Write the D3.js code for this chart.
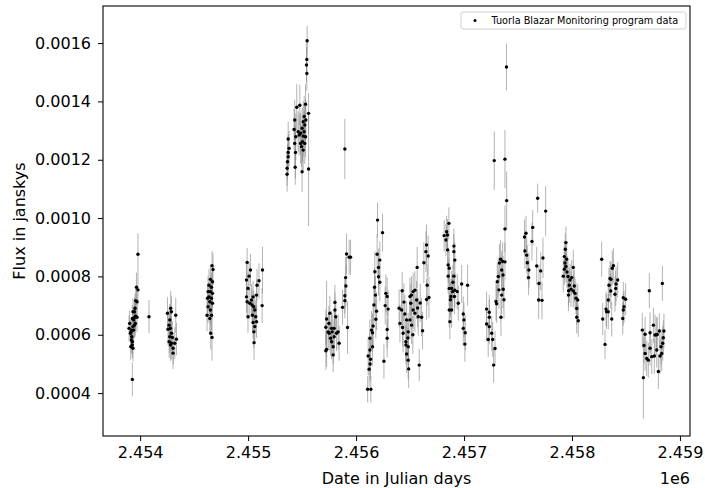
<!DOCTYPE html>
<html>
<head>
<meta charset="utf-8">
<script src="https://cdn.jsdelivr.net/npm/d3@7"></script>
<style>
  body { margin: 0; background: #fff; }
  svg { font-family: "DejaVu Sans", sans-serif; }
</style>
</head>
<body>
<svg id="chart" width="705" height="488"></svg>
<script>
// Tuorla Blazar Monitoring light curve (Julian date, flux in Jy, 1-sigma error)
const jd = [
  2453897, 2453910, 2453919, 2453928, 2453922, 2453903, 2453934, 2453940, 2453928, 2453950,
  2453959, 2453971, 2453947, 2453953, 2453934, 2453959, 2453971, 2453966, 2453980, 2453980,
  2453928, 2453922, 2453916, 2453940, 2453947, 2453956, 2453913, 2453934, 2453928, 2454082,
  2454253, 2454283, 2454290, 2454330, 2454274, 2454268, 2454281, 2454258, 2454290, 2454274,
  2454299, 2454336, 2454268, 2454290, 2454321, 2454305, 2454305, 2454281,
  2454666, 2454675, 2454651, 2454670, 2454638, 2454661, 2454629, 2454651, 2454670, 2454638,
  2454661, 2454624, 2454645, 2454670, 2454629, 2454651, 2454620, 2454661, 2454654, 2454666, 2454645,
  2454991, 2454985, 2455009, 2455022, 2454999, 2454985, 2454991, 2455016, 2455031, 2455046,
  2455037, 2455053, 2454999, 2455041, 2455062, 2455071, 2455046, 2455078, 2455062, 2455053,
  2455078, 2455101, 2455133, 2455130, 2455055, 2455083,
  2455361, 2455361, 2455365, 2455371, 2455371, 2455380, 2455371, 2455436, 2455439, 2455432,
  2455442, 2455426, 2455432, 2455451, 2455479, 2455464, 2455473, 2455486, 2455495, 2455486,
  2455500, 2455510, 2455525, 2455519, 2455510, 2455532, 2455504, 2455525, 2455510, 2455500,
  2455532, 2455560, 2455560, 2455547, 2455544, 2455541, 2455544, 2455519, 2455535,
  2455896,
  2455727, 2455720, 2455727, 2455720, 2455741, 2455751, 2455757, 2455748, 2455764, 2455773,
  2455779, 2455788, 2455788, 2455797, 2455804, 2455804, 2455812, 2455797, 2455819, 2455843,
  2455834, 2455773,
  2455912, 2455936, 2455949, 2455903, 2455906, 2455896, 2455896, 2455875, 2455921,
  2456199, 2456245, 2456195, 2456220, 2456174, 2456208, 2456208, 2456220, 2456171, 2456276,
  2456288, 2456297, 2456270, 2456190, 2456183, 2456158, 2456143, 2456153, 2456128, 2456288,
  2456288, 2456153, 2456128, 2456112, 2456134, 2456121, 2456130, 2456258, 2456107, 2456137,
  2456165, 2456179,
  2456427, 2456399, 2456422, 2456406, 2456431, 2456452, 2456468, 2456483, 2456436, 2456461,
  2456483, 2456468, 2456483, 2456487, 2456499, 2456514, 2456529, 2456545, 2456561, 2456576,
  2456607, 2456616, 2456585, 2456566, 2456628, 2456647, 2456653, 2456668, 2456659, 2456653,
  2456675, 2456507, 2456529, 2456545, 2456499, 2456514, 2456480, 2456526, 2456462, 2456570,
  2456594, 2456443,
  2456860, 2456839, 2456816, 2456846, 2456832, 2456848, 2456906, 2456906, 2456853, 2456863,
  2456915, 2456853, 2456906, 2456863, 2456885, 2456894, 2456915, 2456937, 2456878, 2456911,
  2456863, 2456885, 2456869, 2456978, 2457033, 2456947, 2456993, 2456999, 2456993, 2457011,
  2457008, 2456874, 2456897,
  2457280, 2457379, 2457395, 2457379, 2457339, 2457358, 2457379, 2457328, 2457349, 2457317,
  2457308, 2457361, 2457363, 2457349, 2457296, 2457302, 2457342, 2457209, 2457234, 2457234,
  2457209, 2457234, 2457256, 2457224, 2457265, 2457287, 2457274, 2457393, 2457323, 2457370,
  2457574, 2457560, 2457636, 2457682, 2457756, 2457564, 2457580, 2457586, 2457601, 2457598,
  2457629, 2457673, 2457694, 2457710, 2457731, 2457691, 2457722,
  2457944, 2457938, 2457929, 2457951, 2457935, 2457944, 2457929, 2457919, 2457954, 2457963,
  2457997, 2458012, 2457975, 2457969, 2457991, 2457967, 2458021, 2458012, 2458028, 2458037,
  2458053, 2458044, 2458044, 2458058, 2457982,
  2458275, 2458285, 2458306, 2458315, 2458336, 2458320, 2458336, 2458343, 2458352, 2458361,
  2458359, 2458368, 2458373, 2458383, 2458405, 2458408, 2458423, 2458398, 2458475, 2458497,
  2458482, 2458475, 2458470,
  2458651, 2458661, 2458677, 2458667, 2458677, 2458692, 2458707, 2458716, 2458723, 2458723,
  2458739, 2458754, 2458763, 2458769, 2458781, 2458790, 2458785, 2458800, 2458809, 2458816,
  2458825, 2458831, 2458840, 2458846, 2458852, 2458837
];

const flux = [
  0.000622, 0.000605, 0.000582, 0.000565, 0.000593, 0.000639, 0.000628, 0.000651, 0.000656, 0.000660,
  0.000664, 0.000660, 0.000679, 0.000691, 0.000679, 0.000717, 0.000713, 0.000763, 0.000754, 0.000876,
  0.000447, 0.000616, 0.000610, 0.000616, 0.000633, 0.000639, 0.000559, 0.000554, 0.000576, 0.000662,
  0.000674, 0.000691, 0.000679, 0.000667, 0.000651, 0.000633, 0.000622, 0.000619, 0.000605, 0.000593,
  0.000591, 0.000585, 0.000576, 0.000571, 0.000571, 0.000554, 0.000537, 0.000565,
  0.000837, 0.000824, 0.000790, 0.000782, 0.000770, 0.000763, 0.000748, 0.000748, 0.000742, 0.000730,
  0.000725, 0.000725, 0.000713, 0.000708, 0.000696, 0.000685, 0.000667, 0.000667, 0.000605, 0.000591, 0.000656,
  0.000848, 0.000788, 0.000801, 0.000822, 0.000759, 0.000730, 0.000713, 0.000708, 0.000719, 0.000730,
  0.000702, 0.000696, 0.000662, 0.000667, 0.000685, 0.000662, 0.000642, 0.000645, 0.000628, 0.000610,
  0.000736, 0.000785, 0.000822, 0.000700, 0.000573, 0.000770,
  0.001150, 0.001171, 0.001193, 0.001210, 0.001225, 0.001239, 0.001271, 0.001174, 0.001225, 0.001256,
  0.001279, 0.001304, 0.001336, 0.001380, 0.001387, 0.001296, 0.001285, 0.001256, 0.001245, 0.001291,
  0.001308, 0.001330, 0.001319, 0.001296, 0.001281, 0.001279, 0.001262, 0.001256, 0.001233, 0.001159,
  0.001390, 0.001359, 0.001168, 0.001608, 0.001544, 0.001525, 0.001496, 0.001348, 0.001336,
  0.001237,
  0.000654, 0.000626, 0.000550, 0.000545, 0.000610, 0.000605, 0.000674, 0.000639, 0.000588, 0.000576,
  0.000610, 0.000531, 0.000559, 0.000622, 0.000711, 0.000685, 0.000662, 0.000593, 0.000605, 0.000571,
  0.000610, 0.000622,
  0.000877, 0.000866, 0.000866, 0.000796, 0.000767, 0.000734, 0.000717, 0.000694, 0.000625,
  0.000993, 0.000950, 0.000876, 0.000856, 0.000816, 0.000831, 0.000799, 0.000780, 0.000763, 0.000742,
  0.000731, 0.000688, 0.000700, 0.000681, 0.000653, 0.000630, 0.000616, 0.000607, 0.000588, 0.000618,
  0.000588, 0.000559, 0.000548, 0.000527, 0.000516, 0.000482, 0.000500, 0.000509, 0.000413, 0.000413,
  0.000702, 0.000736,
  0.000751, 0.000691, 0.000685, 0.000639, 0.000625, 0.000671, 0.000651, 0.000610, 0.000605, 0.000576,
  0.000559, 0.000534, 0.000513, 0.000483, 0.000731, 0.000736, 0.000748, 0.000753, 0.000719, 0.000662,
  0.000660, 0.000614, 0.000496, 0.000831, 0.000847, 0.000885, 0.000908, 0.000870, 0.000770, 0.000721,
  0.000728, 0.000708, 0.000685, 0.000674, 0.000651, 0.000633, 0.000589, 0.000600, 0.000565, 0.000692,
  0.000709, 0.000712,
  0.000982, 0.000953, 0.000940, 0.000942, 0.000925, 0.000891, 0.000904, 0.000885, 0.000839, 0.000828,
  0.000856, 0.000801, 0.000801, 0.000759, 0.000759, 0.000748, 0.000753, 0.000748, 0.000731, 0.000731,
  0.000685, 0.000685, 0.000645, 0.000774, 0.000770, 0.000708, 0.000671, 0.000651, 0.000622, 0.000607,
  0.000568, 0.000720, 0.000780,
  0.001197, 0.001202, 0.001060, 0.000963, 0.000859, 0.000851, 0.000850, 0.000846, 0.000822, 0.000800,
  0.000782, 0.000805, 0.000756, 0.000736, 0.000714, 0.000706, 0.000660, 0.000688, 0.000677, 0.000660,
  0.000637, 0.000628, 0.000605, 0.000584, 0.000584, 0.000553, 0.000496, 0.001518, 0.000754, 0.000720,
  0.000948, 0.000935, 0.000968, 0.001068, 0.001024, 0.000887, 0.000873, 0.000847, 0.000822, 0.000796,
  0.000920, 0.000836, 0.000776, 0.000819, 0.000863, 0.000719, 0.000718,
  0.000916, 0.000893, 0.000868, 0.000859, 0.000846, 0.000834, 0.000825, 0.000801, 0.000815, 0.000800,
  0.000796, 0.000831, 0.000770, 0.000751, 0.000756, 0.000736, 0.000767, 0.000750, 0.000742, 0.000725,
  0.000719, 0.000690, 0.000660, 0.000648, 0.000788,
  0.000859, 0.000654, 0.000567, 0.000688, 0.000679, 0.000679, 0.000719, 0.000770, 0.000793, 0.000790,
  0.000750, 0.000654, 0.000828, 0.000837, 0.000759, 0.000774, 0.000788, 0.000739, 0.000727, 0.000722,
  0.000696, 0.000685, 0.000656,
  0.000616, 0.000453, 0.000602, 0.000563, 0.000536, 0.000519, 0.000513, 0.000751, 0.000607, 0.000554,
  0.000525, 0.000633, 0.000527, 0.000599, 0.000600, 0.000601, 0.000548, 0.000474, 0.000613, 0.000527,
  0.000559, 0.000536, 0.000571, 0.000590, 0.000613, 0.000776
];

const fluxErr = [
  0.000045, 0.000045, 0.000045, 0.000045, 0.000045, 0.000045, 0.000045, 0.000045, 0.000045, 0.000050,
  0.000050, 0.000050, 0.000050, 0.000050, 0.000045, 0.000050, 0.000050, 0.000050, 0.000050, 0.000072,
  0.000058, 0.000045, 0.000045, 0.000045, 0.000045, 0.000045, 0.000045, 0.000045, 0.000045, 0.000057,
  0.000055, 0.000060, 0.000055, 0.000060, 0.000055, 0.000055, 0.000055, 0.000055, 0.000055, 0.000055,
  0.000055, 0.000055, 0.000055, 0.000055, 0.000055, 0.000055, 0.000055, 0.000055,
  0.000050, 0.000055, 0.000050, 0.000050, 0.000055, 0.000050, 0.000055, 0.000050, 0.000050, 0.000050,
  0.000050, 0.000050, 0.000055, 0.000050, 0.000055, 0.000050, 0.000055, 0.000055, 0.000055, 0.000080, 0.000055,
  0.000050, 0.000055, 0.000050, 0.000055, 0.000055, 0.000055, 0.000055, 0.000055, 0.000055, 0.000055,
  0.000055, 0.000055, 0.000055, 0.000055, 0.000055, 0.000055, 0.000055, 0.000055, 0.000055, 0.000055,
  0.000055, 0.000060, 0.000080, 0.000060, 0.000060, 0.000055,
  0.000060, 0.000060, 0.000060, 0.000060, 0.000060, 0.000060, 0.000060, 0.000060, 0.000090, 0.000080,
  0.000080, 0.000070, 0.000070, 0.000080, 0.000070, 0.000070, 0.000070, 0.000070, 0.000070, 0.000070,
  0.000070, 0.000070, 0.000070, 0.000070, 0.000070, 0.000070, 0.000070, 0.000070, 0.000070, 0.000070,
  0.000070, 0.000070, 0.000195, 0.000050, 0.000060, 0.000060, 0.000060, 0.000070, 0.000070,
  0.000103,
  0.000130, 0.000060, 0.000060, 0.000065, 0.000060, 0.000060, 0.000060, 0.000060, 0.000060, 0.000060,
  0.000060, 0.000060, 0.000060, 0.000060, 0.000060, 0.000060, 0.000060, 0.000060, 0.000060, 0.000060,
  0.000060, 0.000060,
  0.000070, 0.000060, 0.000060, 0.000070, 0.000070, 0.000060, 0.000060, 0.000060, 0.000090,
  0.000060, 0.000065, 0.000070, 0.000065, 0.000070, 0.000065, 0.000065, 0.000065, 0.000065, 0.000065,
  0.000065, 0.000065, 0.000065, 0.000065, 0.000065, 0.000065, 0.000065, 0.000065, 0.000065, 0.000065,
  0.000065, 0.000065, 0.000065, 0.000065, 0.000065, 0.000060, 0.000060, 0.000060, 0.000045, 0.000045,
  0.000065, 0.000065,
  0.000065, 0.000065, 0.000065, 0.000065, 0.000065, 0.000065, 0.000065, 0.000065, 0.000065, 0.000065,
  0.000065, 0.000065, 0.000065, 0.000065, 0.000065, 0.000065, 0.000065, 0.000065, 0.000065, 0.000065,
  0.000065, 0.000065, 0.000055, 0.000070, 0.000070, 0.000070, 0.000070, 0.000070, 0.000070, 0.000070,
  0.000070, 0.000065, 0.000065, 0.000065, 0.000065, 0.000065, 0.000065, 0.000065, 0.000065, 0.000065,
  0.000065, 0.000065,
  0.000055, 0.000055, 0.000055, 0.000055, 0.000055, 0.000055, 0.000060, 0.000060, 0.000060, 0.000060,
  0.000060, 0.000060, 0.000060, 0.000060, 0.000060, 0.000060, 0.000060, 0.000060, 0.000060, 0.000060,
  0.000060, 0.000060, 0.000060, 0.000065, 0.000070, 0.000060, 0.000060, 0.000060, 0.000060, 0.000060,
  0.000060, 0.000060, 0.000060,
  0.000100, 0.000100, 0.000100, 0.000080, 0.000065, 0.000065, 0.000065, 0.000065, 0.000065, 0.000065,
  0.000065, 0.000065, 0.000065, 0.000065, 0.000065, 0.000065, 0.000065, 0.000060, 0.000060, 0.000060,
  0.000060, 0.000060, 0.000060, 0.000060, 0.000060, 0.000060, 0.000060, 0.000080, 0.000065, 0.000065,
  0.000060, 0.000060, 0.000060, 0.000050, 0.000085, 0.000060, 0.000060, 0.000060, 0.000060, 0.000060,
  0.000065, 0.000065, 0.000065, 0.000065, 0.000070, 0.000065, 0.000065,
  0.000055, 0.000055, 0.000055, 0.000055, 0.000055, 0.000055, 0.000055, 0.000055, 0.000055, 0.000055,
  0.000060, 0.000060, 0.000060, 0.000055, 0.000060, 0.000055, 0.000055, 0.000055, 0.000055, 0.000055,
  0.000055, 0.000055, 0.000055, 0.000055, 0.000055,
  0.000060, 0.000055, 0.000050, 0.000060, 0.000060, 0.000060, 0.000060, 0.000060, 0.000060, 0.000060,
  0.000060, 0.000060, 0.000060, 0.000060, 0.000060, 0.000060, 0.000060, 0.000060, 0.000055, 0.000055,
  0.000055, 0.000055, 0.000055,
  0.000060, 0.000140, 0.000060, 0.000060, 0.000060, 0.000060, 0.000060, 0.000060, 0.000070, 0.000060,
  0.000060, 0.000060, 0.000060, 0.000070, 0.000060, 0.000060, 0.000060, 0.000060, 0.000060, 0.000060,
  0.000060, 0.000060, 0.000060, 0.000060, 0.000060, 0.000060
];

const xTicks = [2454000, 2455000, 2456000, 2457000, 2458000, 2459000];
const yTicks = [0.0004, 0.0006, 0.0008, 0.0010, 0.0012, 0.0014, 0.0016];
const xDomain = [2453656, 2459093];
const yDomain = [0.000253, 0.001727];
const legendLabel = 'Tuorla Blazar Monitoring program data';

const width = 705, height = 488;
const margin = { top: 6, right: 15, bottom: 52, left: 103 };
const fontSize = 16;

const svg = d3.select('#chart');

const x = d3.scaleLinear().domain(xDomain).range([margin.left, width - margin.right]);
const y = d3.scaleLinear().domain(yDomain).range([height - margin.bottom, margin.top]);

const points = jd.map((d, i) => ({ jd: d, flux: flux[i], err: fluxErr[i] }));

// error bars
svg.append('g')
  .selectAll('line')
  .data(points)
  .join('line')
  .attr('x1', d => x(d.jd))
  .attr('x2', d => x(d.jd))
  .attr('y1', d => y(d.flux - d.err))
  .attr('y2', d => y(d.flux + d.err))
  .attr('stroke', '#888')
  .attr('stroke-width', 0.8)
  .attr('stroke-opacity', 0.8);

// data points
svg.append('g')
  .selectAll('circle')
  .data(points)
  .join('circle')
  .attr('cx', d => x(d.jd))
  .attr('cy', d => y(d.flux))
  .attr('r', 1.7)
  .attr('fill', '#000');

// axes
const xAxis = svg.append('g')
  .attr('transform', `translate(0,${height - margin.bottom})`)
  .call(d3.axisBottom(x).tickValues(xTicks).tickSize(5).tickPadding(6)
    .tickFormat(d => (d / 1e6).toFixed(3)));

const yAxis = svg.append('g')
  .attr('transform', `translate(${margin.left},0)`)
  .call(d3.axisLeft(y).tickValues(yTicks).tickSize(5).tickPadding(7)
    .tickFormat(d3.format('.4f')));

[xAxis, yAxis].forEach(a => {
  a.select('.domain').remove();
  a.selectAll('line').attr('stroke', '#000').attr('stroke-width', 1);
  a.selectAll('text').attr('font-size', fontSize).attr('fill', '#000')
    .attr('font-family', '"DejaVu Sans", sans-serif');
});

// frame
svg.append('rect')
  .attr('x', margin.left)
  .attr('y', margin.top)
  .attr('width', width - margin.left - margin.right)
  .attr('height', height - margin.top - margin.bottom)
  .attr('fill', 'none')
  .attr('stroke', '#000')
  .attr('stroke-width', 1.1);

// axis labels
svg.append('text')
  .attr('x', (margin.left + width - margin.right) / 2)
  .attr('y', 484)
  .attr('text-anchor', 'middle')
  .attr('font-size', fontSize)
  .text('Date in Julian days');

svg.append('text')
  .attr('transform', `translate(25,${(margin.top + height - margin.bottom) / 2}) rotate(-90)`)
  .attr('text-anchor', 'middle')
  .attr('font-size', fontSize)
  .text('Flux in janskys');

svg.append('text')
  .attr('x', width - margin.right)
  .attr('y', 484)
  .attr('text-anchor', 'end')
  .attr('font-size', fontSize)
  .text('1e6');

// legend
const legend = svg.append('g');
legend.append('rect')
  .attr('x', 461).attr('y', 12)
  .attr('width', 225).attr('height', 17)
  .attr('rx', 2)
  .attr('fill', '#fff')
  .attr('fill-opacity', 0.8)
  .attr('stroke', '#d0d0d0')
  .attr('stroke-width', 1);
legend.append('circle')
  .attr('cx', 475).attr('cy', 20.5)
  .attr('r', 1.5)
  .attr('fill', '#000');
legend.append('text')
  .attr('x', 491.5).attr('y', 24)
  .attr('font-size', 9.7)
  .text(legendLabel);
</script>
</body>
</html>
